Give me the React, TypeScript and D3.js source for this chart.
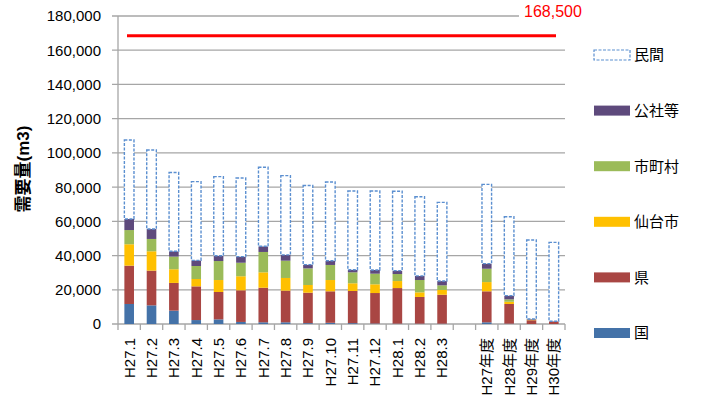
import React from "react";
import * as d3 from "d3";

const categories = ["H27.1","H27.2","H27.3","H27.4","H27.5","H27.6","H27.7","H27.8","H27.9","H27.10","H27.11","H27.12","H28.1","H28.2","H28.3"," ","H27年度","H28年度","H29年度","H30年度"];
const seriesNames = ["国","県","仙台市","市町村","公社等","民間"];
const kuni =    [11700,10900,7800,2300,2700,1200,1000,1000,500,700,500,300,200,200,200,0,1000,200,0,0];
const ken =     [22400,20300,16200,19700,16000,18500,20200,18500,17800,18400,18800,17800,20800,15600,16900,0,18100,11500,2200,1600];
const sendai =  [12500,11300,8000,4300,7000,8200,9000,7400,4500,6600,4500,5100,4100,2700,2800,0,5400,1300,400,0];
const shichoson=[8300,7200,7400,7600,11100,7900,11900,10100,9700,8800,6400,6200,4100,7200,2700,0,7800,1400,0,0];
const kosha =   [6500,5800,3100,3300,3100,3600,3300,3400,2200,2500,1500,2200,2000,2400,2500,0,3000,2200,300,0];
const minkan =  [46100,46200,46000,46000,46200,45900,46200,46300,46200,46000,46000,46100,46400,46300,46000,0,46300,46100,46200,46100];
const yTicks = [0,20000,40000,60000,80000,100000,120000,140000,160000,180000];
const targetValue = 168500;
const targetLabel = "168,500";
const yTitle = "需要量(m3)";

const colors = ["#4472A8","#A94643","#FFC000","#9BBB59","#5E4A7C","#ffffff"];
const font = "'Liberation Sans', 'Noto Sans CJK JP', sans-serif";

export default function App() {
  const W = 704, H = 409;
  const x = d3.scaleBand<string>().domain(categories).range([118, 565]).paddingInner(0.57).paddingOuter(0.285);
  const y = d3.scaleLinear().domain([0, 180000]).range([324, 16]);
  const step = x.step();
  const off = (step - x.bandwidth()) / 2;
  const data = categories.map((c, i) => ({ c, 国: kuni[i], 県: ken[i], 仙台市: sendai[i], 市町村: shichoson[i], 公社等: kosha[i], 民間: minkan[i] }));
  const stack = d3.stack<any>().keys(seriesNames)(data);
  const fmt = d3.format(",");
  const legendOrder = [...seriesNames].reverse();

  return (
    <svg width={W} height={H} style={{ position: "absolute", left: 0, top: 0, background: "#fff" }} fontFamily={font}>
      {yTicks.map((t) => (
        <g key={t}>
          <line x1={112} x2={565} y1={y(t)} y2={y(t)} stroke="#a6a6a6" strokeWidth={1.3} />
          <text x={101} y={y(t)} dy="0.36em" textAnchor="end" fontSize={15} fill="#000">{fmt(t)}</text>
        </g>
      ))}
      <line x1={118} x2={118} y1={16} y2={324} stroke="#a6a6a6" strokeWidth={1.3} />
      {categories.map((c, i) => (
        <line key={"t" + i} x1={(x(c) as number) - off} x2={(x(c) as number) - off} y1={324} y2={330} stroke="#a6a6a6" strokeWidth={1.3} />
      ))}
      <line x1={565} x2={565} y1={324} y2={330} stroke="#a6a6a6" strokeWidth={1.3} />
      {stack.map((s, si) => (
        <g key={s.key}>
          {s.map((d, i) => {
            if (d[1] - d[0] <= 0) return null;
            const bx = x(categories[i]) as number;
            const isMin = s.key === "民間";
            return (
              <rect key={i} x={bx} width={x.bandwidth()} y={y(d[1])} height={y(d[0]) - y(d[1])}
                fill={colors[si]} stroke={isMin ? "#5b8fd0" : "none"} strokeWidth={isMin ? 1.4 : 0}
                strokeDasharray={isMin ? "3,1.5" : undefined} />
            );
          })}
        </g>
      ))}
      <line x1={127} x2={556} y1={y(targetValue)} y2={y(targetValue)} stroke="#ff0000" strokeWidth={3} />
      <rect x={519} y={3} width={68} height={20} fill="#fff" />
      <text x={524} y={17} fontSize={16} fill="#ff0000">{targetLabel}</text>
      {categories.map((c, i) => c.trim() === "" ? null : (
        <text key={"l" + i} transform={`translate(${(x(c) as number) + x.bandwidth() / 2},338) rotate(-90)`} dy="0.36em" textAnchor="end" fontSize={15} fill="#000">{c}</text>
      ))}
      <text transform={`translate(23,169) rotate(-90)`} dy="0.36em" textAnchor="middle" fontSize={17} fontWeight="bold" fill="#000">{yTitle}</text>
      {legendOrder.map((k, i) => {
        const si = seriesNames.indexOf(k);
        const ly = 55 + i * 55.6;
        const isMin = k === "民間";
        return (
          <g key={"lg" + k}>
            <rect x={594} y={ly - 5} width={36} height={10} fill={colors[si]} stroke={isMin ? "#5b8fd0" : "none"} strokeWidth={isMin ? 1.2 : 0} strokeDasharray={isMin ? "3,1.5" : undefined} />
            <text x={634} y={ly} dy="0.36em" fontSize={15} fill="#000">{k}</text>
          </g>
        );
      })}
    </svg>
  );
}
